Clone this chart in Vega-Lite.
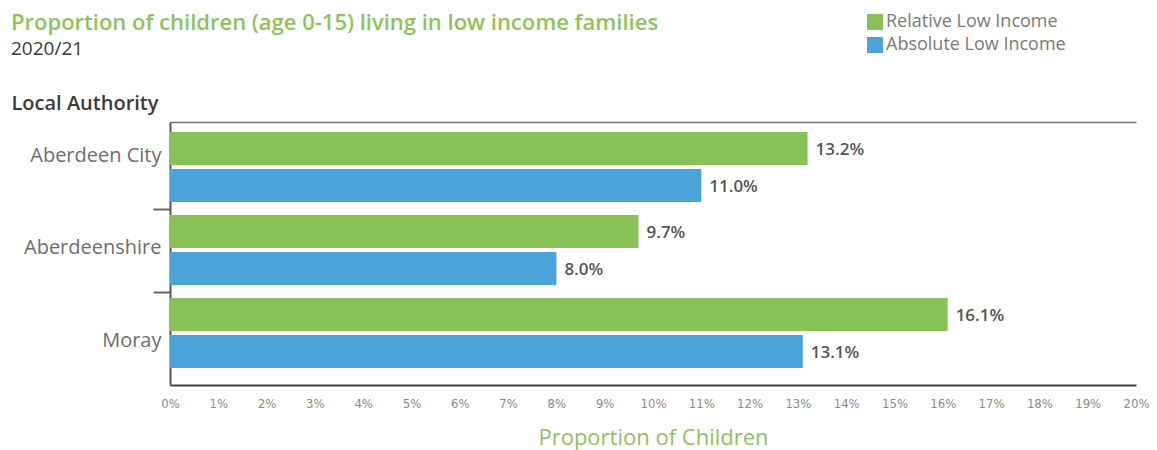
{
  "$schema": "https://vega.github.io/schema/vega-lite/v6.json",
  "width": 966,
  "height": 263,
  "autosize": {"type": "none"},
  "padding": {"left": 170, "top": 122, "right": 21, "bottom": 65},
  "background": "white",
  "config": {"view": {"stroke": null}, "font": "Open Sans"},
  "title": {
    "text": "Proportion of children (age 0-15) living in low income families",
    "subtitle": "2020/21",
    "anchor": "start",
    "frame": "group",
    "dx": -159,
    "offset": -47,
    "fontSize": 22,
    "fontWeight": 600,
    "color": "#8cc45a",
    "subtitleFontSize": 19,
    "subtitleColor": "#3a3a3a",
    "subtitlePadding": 5
  },
  "data": {
    "values": [
      {"authority": "Aberdeen City", "measure": "Relative Low Income", "value": 0.132},
      {"authority": "Aberdeen City", "measure": "Absolute Low Income", "value": 0.110},
      {"authority": "Aberdeenshire", "measure": "Relative Low Income", "value": 0.097},
      {"authority": "Aberdeenshire", "measure": "Absolute Low Income", "value": 0.080},
      {"authority": "Moray", "measure": "Relative Low Income", "value": 0.161},
      {"authority": "Moray", "measure": "Absolute Low Income", "value": 0.131}
    ]
  },
  "layer": [
    {
      "mark": {"type": "bar"},
      "encoding": {
        "y": {
          "field": "authority",
          "type": "nominal",
          "sort": ["Aberdeen City", "Aberdeenshire", "Moray"],
          "scale": {"paddingInner": 0, "paddingOuter": 0.0843, "align": 0.29},
          "axis": {
            "orient": "left",
            "title": "Local Authority",
            "titleAngle": 0,
            "titleAlign": "left",
            "titleX": -159,
            "titleY": -13,
            "titleBaseline": "alphabetic",
            "titleFontSize": 20,
            "titleFontWeight": 600,
            "titleColor": "#3a3a3a",
            "ticks": false,
            "labelPadding": 9,
            "labelFontSize": 20,
            "labelColor": "#6e6e6e",
            "labelLimit": 200,
            "labelOffset": {
              "condition": [
                {"test": "datum.value === 'Aberdeen City'", "value": -12},
                {"test": "datum.value === 'Moray'", "value": 7}
              ],
              "value": -3
            },
            "domainColor": "#555555",
            "domainWidth": 2,
            "grid": false
          }
        },
        "yOffset": {
          "field": "measure",
          "type": "nominal",
          "sort": ["Relative Low Income", "Absolute Low Income"],
          "scale": {"paddingInner": 0.108, "paddingOuter": 0.175, "align": 0.45}
        },
        "x": {
          "field": "value",
          "type": "quantitative",
          "scale": {"domain": [0, 0.2], "nice": false},
          "axis": {
            "orient": "bottom",
            "values": [0, 0.01, 0.02, 0.03, 0.04, 0.05, 0.06, 0.07, 0.08, 0.09, 0.1, 0.11, 0.12, 0.13, 0.14, 0.15, 0.16, 0.17, 0.18, 0.19, 0.2],
            "format": ".0%",
            "ticks": false,
            "labelPadding": 12,
            "labelFontSize": 13,
            "labelFlush": false,
            "labelOverlap": false,
            "labelFont": "'DejaVu Sans Condensed', Roboto, sans-serif",
            "labelColor": "#8a8a8a",
            "domainColor": "#444444",
            "domainWidth": 2,
            "grid": false,
            "title": "Proportion of Children",
            "titleColor": "#8cc45a",
            "titleFontSize": 22,
            "titleFontWeight": 400,
            "titleY": 59,
            "titleBaseline": "alphabetic"
          }
        },
        "color": {
          "field": "measure",
          "type": "nominal",
          "scale": {"domain": ["Relative Low Income", "Absolute Low Income"], "range": ["#88c158", "#4aa4da"]},
          "legend": {
            "title": null,
            "orient": "none",
            "legendX": 696,
            "legendY": -109,
            "symbolType": "square",
            "symbolSize": 256,
            "symbolStrokeWidth": 0,
            "labelFontSize": 18,
            "labelLimit": 300,
            "labelColor": "#7a7a7a",
            "labelOffset": 2,
            "rowPadding": 5
          }
        }
      }
    },
    {
      "mark": {"type": "text", "align": "left", "baseline": "middle", "dx": 8, "dy": 2, "fontSize": 17, "fontWeight": 600, "color": "#555555"},
      "encoding": {
        "y": {
          "field": "authority",
          "type": "nominal",
          "sort": ["Aberdeen City", "Aberdeenshire", "Moray"],
          "axis": {
            "orient": "left",
            "values": ["Aberdeenshire", "Moray"],
            "bandPosition": 0,
            "labels": false,
            "domain": false,
            "title": null,
            "tickSize": 17,
            "tickColor": "#666666",
            "tickWidth": 2,
            "grid": false
          }
        },
        "yOffset": {
          "field": "measure",
          "type": "nominal",
          "sort": ["Relative Low Income", "Absolute Low Income"]
        },
        "x": {
          "field": "value",
          "type": "quantitative",
          "axis": {
            "orient": "top",
            "labels": false,
            "ticks": false,
            "title": null,
            "domainColor": "#777777",
            "domainWidth": 1.5,
            "grid": false
          }
        },
        "text": {"field": "value", "type": "quantitative", "format": ".1%"}
      }
    }
  ],
  "resolve": {"axis": {"x": "independent", "y": "independent"}}
}
